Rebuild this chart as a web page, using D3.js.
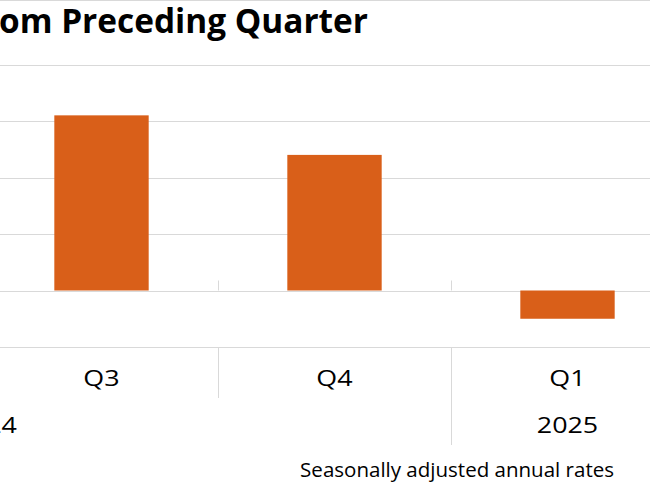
<!DOCTYPE html>
<html>
<head>
<meta charset="utf-8">
<script src="https://cdn.jsdelivr.net/npm/d3@7"></script>
<style>
  body { margin: 0; background: #fff; }
  svg { display: block; }
</style>
</head>
<body>
<div id="chart"></div>
<script>
// visible part of the chart
const quarters = ["Q3", "Q4", "Q1"];
const quarterYear = ["2024", "2024", "2025"];
const values = [3.1, 2.4, -0.5];
const yTicks = [-1, 0, 1, 2, 3, 4];
const years = ["2024", "2025"];

const width = 650, height = 487;
const font = "'Open Sans', sans-serif";
const stretch = 1.28; // labels in the original look a bit wide

const svg = d3.select("#chart").append("svg")
    .attr("width", width)
    .attr("height", height);

// scale a text's font size so it spans about w pixels
function fitWidth(sel, w) {
    const len = sel.node().getComputedTextLength();
    const fs = +sel.attr("font-size");
    sel.attr("font-size", (fs * w / len).toFixed(2));
}

// border line on top
svg.append("line")
    .attr("x1", 0).attr("x2", width)
    .attr("y1", 0.5).attr("y2", 0.5)
    .attr("stroke", "#d9d9d9");

// title (cut off on the left like the original)
const title = svg.append("text")
    .attr("x", -1)
    .attr("y", 33)
    .attr("font-family", font)
    .attr("font-weight", "bold")
    .attr("font-size", 30)
    .attr("fill", "#000")
    .text("om Preceding Quarter");
fitWidth(title, 369);

const keys = quarters.map((q, i) => q + "-" + quarterYear[i]);

const x = d3.scaleBand()
    .domain(keys)
    .range([-15, 684])
    .padding(0);

const y = d3.scaleLinear()
    .domain([-1, 4])
    .range([347, 64.5]);

// gridlines
svg.append("g")
    .selectAll("line")
    .data(yTicks)
    .enter()
    .append("line")
    .attr("x1", 0)
    .attr("x2", width)
    .attr("y1", d => Math.round(y(d)) + 0.5)
    .attr("y2", d => Math.round(y(d)) + 0.5)
    .attr("stroke", "#d9d9d9")
    .attr("stroke-width", 1);

// bars
const barW = x.bandwidth() * 0.405;
svg.append("g")
    .selectAll("rect")
    .data(values)
    .enter()
    .append("rect")
    .attr("x", (d, i) => x(keys[i]) + (x.bandwidth() - barW) / 2)
    .attr("width", barW)
    .attr("y", d => y(Math.max(0, d)))
    .attr("height", d => Math.abs(y(d) - y(0)))
    .attr("fill", "#d95f19");

// tick marks on zero axis between categories
const bounds = keys.slice(1).map(k => x(k));
svg.append("g")
    .selectAll("line")
    .data(bounds)
    .enter()
    .append("line")
    .attr("x1", d => Math.round(d) + 0.5)
    .attr("x2", d => Math.round(d) + 0.5)
    .attr("y1", y(0) - 10)
    .attr("y2", y(0))
    .attr("stroke", "#d9d9d9");

// separators in the label area (longer where the year changes)
svg.append("g")
    .selectAll("line")
    .data(bounds)
    .enter()
    .append("line")
    .attr("x1", d => Math.round(d) + 0.5)
    .attr("x2", d => Math.round(d) + 0.5)
    .attr("y1", y(-1))
    .attr("y2", (d, i) => quarterYear[i] !== quarterYear[i + 1] ? 445 : 398)
    .attr("stroke", "#d9d9d9");

// quarter labels
svg.append("g")
    .selectAll("text")
    .data(quarters)
    .enter()
    .append("text")
    .attr("transform", (d, i) => `translate(${x(keys[i]) + x.bandwidth() / 2},386) scale(${stretch},1)`)
    .attr("text-anchor", "middle")
    .attr("font-family", font)
    .attr("font-size", 21)
    .attr("fill", "#000")
    .text(d => d);

// year labels
svg.append("text")
    .attr("transform", `translate(17,433) scale(${stretch},1)`)
    .attr("text-anchor", "end")
    .attr("font-family", font)
    .attr("font-size", 21)
    .text(years[0]);

svg.append("text")
    .attr("transform", `translate(${x(keys[2]) + x.bandwidth() / 2},433) scale(${stretch},1)`)
    .attr("text-anchor", "middle")
    .attr("font-family", font)
    .attr("font-size", 21)
    .text(years[1]);

// note
const note = svg.append("text")
    .attr("x", 614)
    .attr("y", 477)
    .attr("text-anchor", "end")
    .attr("font-family", font)
    .attr("font-size", 17)
    .text("Seasonally adjusted annual rates");
fitWidth(note, 314);
</script>
</body>
</html>
